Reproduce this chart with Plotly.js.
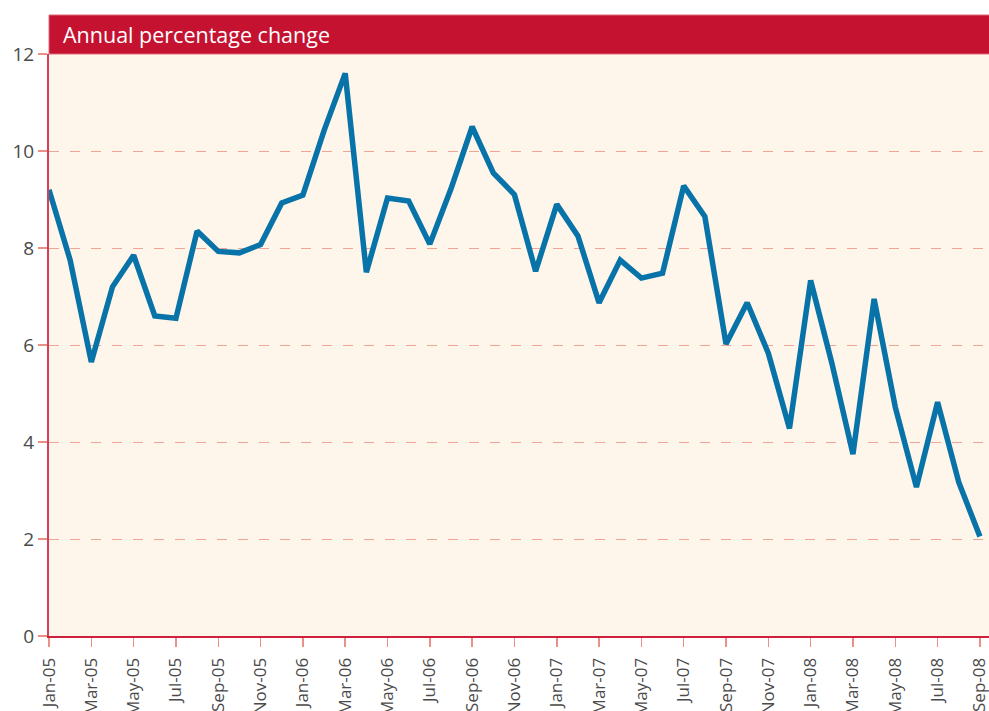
<!DOCTYPE html>
<html>
<head>
<meta charset="utf-8">
<script src="https://cdn.plot.ly/plotly-3.0.1.min.js"></script>
<style>
html,body{margin:0;padding:0;background:#ffffff;}
#chart{width:989px;height:711px;}
</style>
</head>
<body>
<div id="chart"></div>
<script>
const months = [
  "Jan-05","Feb-05","Mar-05","Apr-05","May-05","Jun-05","Jul-05","Aug-05","Sep-05","Oct-05","Nov-05","Dec-05",
  "Jan-06","Feb-06","Mar-06","Apr-06","May-06","Jun-06","Jul-06","Aug-06","Sep-06","Oct-06","Nov-06","Dec-06",
  "Jan-07","Feb-07","Mar-07","Apr-07","May-07","Jun-07","Jul-07","Aug-07","Sep-07","Oct-07","Nov-07","Dec-07",
  "Jan-08","Feb-08","Mar-08","Apr-08","May-08","Jun-08","Jul-08","Aug-08","Sep-08"
];
const annualChange = [
  9.2, 7.75, 5.65, 7.2, 7.85, 6.6, 6.55, 8.35, 7.93, 7.9, 8.07, 8.93,
  9.09, 10.42, 11.6, 7.5, 9.03, 8.97, 8.08, 9.22, 10.5, 9.55, 9.1, 7.52,
  8.9, 8.25, 6.87, 7.75, 7.38, 7.48, 9.28, 8.65, 6.02, 6.87, 5.83, 4.28,
  7.33, 5.63, 3.75, 6.95, 4.72, 3.07, 4.82, 3.17, 2.05
];
const tickLabels = months.filter((m, i) => i % 2 === 0);
const yTicks = [0, 2, 4, 6, 8, 10, 12];
const bandLabel = "Annual percentage change";

const trace = {
  type: "scatter",
  mode: "lines",
  x: months,
  y: annualChange,
  line: {color: "#0873a8", width: 5.5, shape: "linear"},
  hoverinfo: "x+y",
  cliponaxis: false
};

const plotH = 711 - 54 - 75;
const layout = {
  width: 989,
  height: 711,
  margin: {l: 49, r: 0, t: 54, b: 75, pad: 0},
  paper_bgcolor: "#ffffff",
  plot_bgcolor: "#fef6ea",
  showlegend: false,
  font: {family: "Open Sans, Noto Sans, sans-serif", color: "#4a4a4a"},
  xaxis: {
    type: "category",
    range: [0, 44.43],
    tickmode: "array",
    tickvals: tickLabels,
    ticktext: tickLabels,
    tickangle: -90,
    tickfont: {size: 17, color: "#4a4a4a"},
    ticks: "outside",
    ticklen: 9,
    tickwidth: 1.5,
    tickcolor: "#ec8f86",
    ticklabelstandoff: 4,
    showline: true,
    linecolor: "#d2203c",
    linewidth: 2,
    showgrid: false,
    zeroline: false,
    fixedrange: true
  },
  yaxis: {
    range: [0, 12],
    tickmode: "array",
    tickvals: yTicks,
    ticktext: yTicks.map(String),
    tickfont: {size: 19, color: "#4a4a4a"},
    ticks: "outside",
    ticklen: 9,
    tickwidth: 1.5,
    tickcolor: "#ec8f86",
    showline: true,
    linecolor: "#d2405a",
    linewidth: 2,
    showgrid: true,
    gridcolor: "#f0a596",
    gridwidth: 1,
    griddash: "10px,11px",
    zeroline: false,
    fixedrange: true
  },
  shapes: [{
    type: "rect",
    xref: "paper", yref: "paper",
    x0: 0, x1: 1.02,
    y0: 1, y1: 1 + 39 / plotH,
    fillcolor: "#c41230",
    line: {color: "#dc6a7c", width: 1},
    layer: "above"
  }],
  annotations: [{
    xref: "paper", yref: "paper",
    x: 0, y: 1 + 19.5 / plotH,
    xanchor: "left", yanchor: "middle",
    xshift: 12,
    text: bandLabel,
    showarrow: false,
    font: {size: 21.5, color: "#ffffff", family: "Open Sans, Noto Sans, sans-serif"}
  }]
};

Plotly.newPlot("chart", [trace], layout, {displayModeBar: false, staticPlot: true});
</script>
</body>
</html>
